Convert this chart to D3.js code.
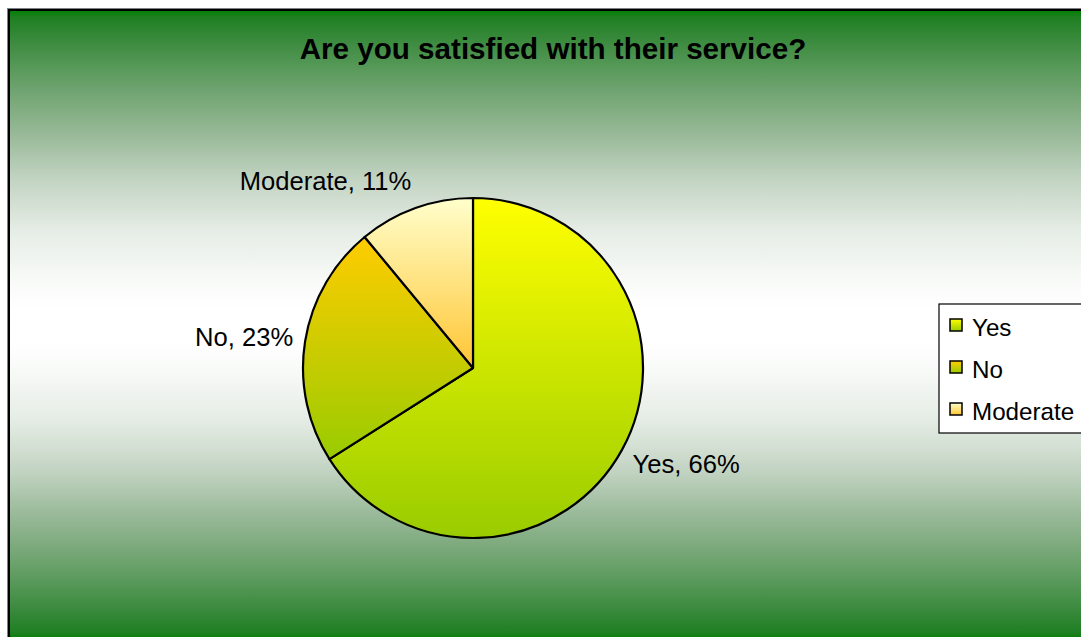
<!DOCTYPE html>
<html>
<head>
<meta charset="utf-8">
<script src="https://cdn.jsdelivr.net/npm/d3@7"></script>
<style>
  html, body { margin: 0; padding: 0; background: #ffffff; }
  svg { display: block; font-family: "Liberation Sans", Arial, sans-serif; }
</style>
</head>
<body>
<svg id="chart" width="1081" height="637"></svg>
<script>
// Survey answers and their shares (percent)
const categories = ["Yes", "No", "Moderate"];
const values = [66, 23, 11];
const titleText = "Are you satisfied with their service?";

// Per-slice gradient colours (top -> bottom)
const sliceTop = ["#ffff00", "#ffcc00", "#ffffcc"];
const sliceBottom = ["#99cc00", "#99cc00", "#ffc533"];

const svg = d3.select("#chart");
const defs = svg.append("defs");

// Chart area background: green at the edges, white in the middle
const frame = { x: 9, y: 10, w: 1090, h: 630 };
const bg = defs.append("linearGradient")
  .attr("id", "bgGrad")
  .attr("gradientUnits", "userSpaceOnUse")
  .attr("x1", 0).attr("x2", 0)
  .attr("y1", frame.y).attr("y2", frame.y + frame.h);
const half = [
  [0.000, "#008000"], [0.012, "#1f7f22"], [0.048, "#3a8a3d"],
  [0.095, "#5a9a5c"], [0.143, "#79a879"], [0.206, "#9dbc9d"],
  [0.270, "#c3d4c3"], [0.349, "#e5ece5"], [0.428, "#f8faf8"],
  [0.476, "#ffffff"]
];
half.forEach(([o, c]) => bg.append("stop").attr("offset", o).attr("stop-color", c));
half.slice().reverse().forEach(([o, c]) => bg.append("stop").attr("offset", 1 - o).attr("stop-color", c));

svg.append("rect")
  .attr("x", frame.x - 1.5).attr("y", frame.y - 1.5)
  .attr("width", frame.w + 3).attr("height", frame.h + 3)
  .attr("fill", "none").attr("stroke", "#808080").attr("stroke-width", 1);
svg.append("rect")
  .attr("x", frame.x).attr("y", frame.y)
  .attr("width", frame.w).attr("height", frame.h)
  .attr("fill", "url(#bgGrad)")
  .attr("stroke", "#000").attr("stroke-width", 2);

// Title
svg.append("text")
  .attr("x", 553).attr("y", 59)
  .attr("text-anchor", "middle")
  .attr("font-size", 29.6).attr("font-weight", "bold")
  .attr("fill", "#000")
  .text(titleText);

// Slice gradients
categories.forEach((c, i) => {
  const g = defs.append("linearGradient")
    .attr("id", "slice" + i)
    .attr("x1", 0).attr("x2", 0).attr("y1", 0).attr("y2", 1);
  g.append("stop").attr("offset", 0).attr("stop-color", sliceTop[i]);
  g.append("stop").attr("offset", 1).attr("stop-color", sliceBottom[i]);
});

// Pie
const cx = 473, cy = 368, R = 170;
const pie = d3.pie().sort(null).value(d => d.value);
const arcs = pie(categories.map((c, i) => ({ name: c, value: values[i], i })));
const arc = d3.arc().innerRadius(0).outerRadius(R);
const labelArc = d3.arc().innerRadius(182).outerRadius(182);

const g = svg.append("g").attr("transform", `translate(${cx},${cy})`);
g.selectAll("path.slice")
  .data(arcs)
  .join("path")
  .attr("class", "slice")
  .attr("d", arc)
  .attr("fill", d => `url(#slice${d.data.i})`)
  .attr("stroke", "#000")
  .attr("stroke-width", 2.2)
  .attr("stroke-linejoin", "round");

// Data labels: "Name, value%", pushed outward so the text box clears the rim
g.selectAll("text.lbl")
  .data(arcs)
  .join("text")
  .attr("class", "lbl")
  .each(function (d) {
    const mid = (d.startAngle + d.endAngle) / 2;
    const [x, y] = labelArc.centroid(d);
    d3.select(this)
      .attr("x", x)
      .attr("y", y - 17 * Math.cos(mid) + 9.5)
      .attr("text-anchor", Math.sin(mid) >= 0 ? "start" : "end");
  })
  .attr("font-size", 25.6)
  .attr("fill", "#000")
  .text(d => `${d.data.name}, ${d.data.value}%`);

// Legend
const legend = svg.append("g");
legend.append("rect")
  .attr("x", 939).attr("y", 304)
  .attr("width", 160).attr("height", 129)
  .attr("fill", "#ffffff")
  .attr("stroke", "#000").attr("stroke-width", 1.2);

const ly = d3.scalePoint().domain(categories).range([326, 410]);
const items = legend.selectAll("g.item")
  .data(categories)
  .join("g")
  .attr("class", "item")
  .attr("transform", d => `translate(0,${ly(d)})`);
items.append("rect")
  .attr("x", 950).attr("y", -7)
  .attr("width", 12).attr("height", 12)
  .attr("fill", (d, i) => `url(#slice${i})`)
  .attr("stroke", "#000").attr("stroke-width", 1.5);
items.append("text")
  .attr("x", 972).attr("y", 10)
  .attr("font-size", 24.2)
  .attr("fill", "#000")
  .text(d => d);
</script>
</body>
</html>
